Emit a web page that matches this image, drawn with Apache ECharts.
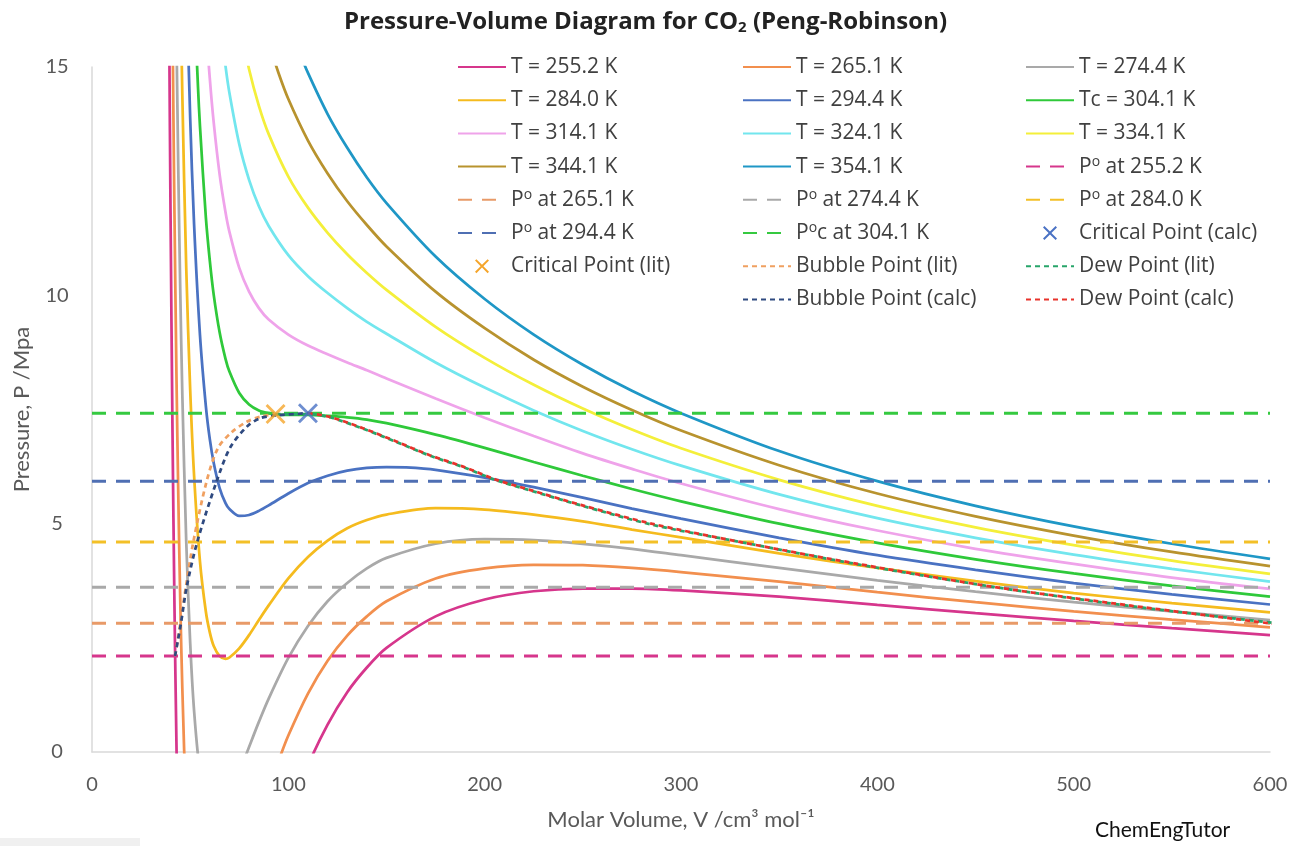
<!DOCTYPE html>
<html>
<head>
<meta charset="utf-8">
<title>Pressure-Volume Diagram for CO2 (Peng-Robinson)</title>
<script src="https://cdn.jsdelivr.net/npm/echarts@6/dist/echarts.min.js"></script>
<style>
  html, body { margin: 0; padding: 0; background: #fff; }
  #chart { width: 1291px; height: 846px; }
</style>
</head>
<body>
<div id="chart"></div>
<script>
// isotherms as [V (cm3/mol), P (MPa)]
const iso2552 = [[39.3, 16.0], [40, 11.8], [41, 7.02], [42, 3.22], [43, 0.22], [44, -2.17], [46, -5.57], [50, -8.9], [55, -9.88], [60, -9.39], [70, -7.17], [80, -4.88], [90, -2.98], [100, -1.47], [110, -0.30], [120, 0.60], [130, 1.31], [140, 1.85], [150, 2.28], [175, 2.97], [200, 3.34], [225, 3.52], [250, 3.58], [275, 3.58], [300, 3.54], [350, 3.40], [400, 3.22], [450, 3.04], [500, 2.87], [550, 2.71], [600, 2.56]]
const iso2651 = [[40.5, 18.6], [41, 16.1], [41.5, 13.8], [42, 11.8], [43, 8.3], [44, 5.5], [45, 3.2], [46, 1.4], [48, -1.3], [50, -3.05], [55, -5.0], [60, -5.21], [65, -4.72], [70, -3.96], [80, -2.30], [90, -0.83], [95, -0.20], [100, 0.36], [110, 1.28], [120, 2.0], [130, 2.55], [140, 2.97], [150, 3.30], [175, 3.80], [200, 4.02], [225, 4.10], [250, 4.09], [275, 4.03], [300, 3.94], [350, 3.73], [400, 3.50], [450, 3.28], [500, 3.08], [550, 2.90], [600, 2.73]]
const iso2744 = [[42, 19.7], [43, 15.8], [44, 12.6], [45, 10.0], [46, 7.84], [48, 4.61], [50, 2.40], [52, 0.90], [55, -0.46], [58, -1.13], [60, -1.33], [65, -1.34], [70, -0.97], [75, -0.45], [80, 0.11], [85, 0.66], [90, 1.17], [100, 2.06], [110, 2.76], [120, 3.30], [130, 3.70], [140, 4.02], [150, 4.25], [175, 4.56], [200, 4.66], [225, 4.64], [250, 4.56], [275, 4.45], [300, 4.31], [350, 4.03], [400, 3.76], [450, 3.51], [500, 3.28], [550, 3.08], [600, 2.89]]
const iso2840 = [[44, 19.9], [45, 16.9], [46, 14.4], [48, 10.6], [50, 7.95], [52, 6.05], [55, 4.17], [58, 3.07], [60, 2.62], [62, 2.32], [65, 2.10], [68, 2.04], [70, 2.07], [75, 2.27], [80, 2.56], [85, 2.89], [90, 3.21], [100, 3.80], [110, 4.27], [120, 4.63], [130, 4.90], [140, 5.08], [150, 5.20], [175, 5.34], [200, 5.31], [225, 5.20], [250, 5.05], [275, 4.87], [300, 4.70], [350, 4.35], [400, 4.03], [450, 3.74], [500, 3.48], [550, 3.26], [600, 3.06]]
const iso2944 = [[46, 21.5], [48, 17.1], [50, 13.9], [52, 11.55], [55, 9.13], [58, 7.57], [60, 6.85], [62, 6.33], [65, 5.78], [68, 5.45], [70, 5.32], [75, 5.17], [80, 5.19], [85, 5.28], [90, 5.40], [100, 5.66], [110, 5.89], [120, 6.05], [130, 6.16], [140, 6.22], [150, 6.24], [160, 6.23], [175, 6.18], [200, 6.01], [225, 5.80], [250, 5.57], [275, 5.33], [300, 5.11], [350, 4.69], [400, 4.31], [450, 3.99], [500, 3.70], [550, 3.45], [600, 3.23]]
const iso3041 = [[50, 19.4], [52, 16.6], [54, 14.55], [55, 13.7], [58, 11.7], [60, 10.76], [62, 10.01], [65, 9.19], [68, 8.61], [70, 8.33], [75, 7.86], [80, 7.61], [85, 7.48], [90, 7.42], [95, 7.39], [100, 7.38], [110, 7.38], [120, 7.36], [130, 7.33], [140, 7.28], [150, 7.20], [175, 6.95], [200, 6.66], [225, 6.35], [250, 6.05], [275, 5.76], [300, 5.49], [350, 5.00], [400, 4.58], [450, 4.22], [500, 3.91], [550, 3.64], [600, 3.40]]
const iso3141 = [[55, 18.36], [58, 15.95], [60, 14.75], [62, 13.78], [65, 12.65], [68, 11.82], [70, 11.39], [75, 10.60], [80, 10.08], [85, 9.72], [90, 9.47], [100, 9.14], [110, 8.90], [120, 8.71], [130, 8.53], [140, 8.36], [150, 8.18], [175, 7.74], [200, 7.32], [225, 6.92], [250, 6.54], [275, 6.20], [300, 5.88], [350, 5.32], [400, 4.85], [450, 4.45], [500, 4.12], [550, 3.82], [600, 3.57]]
const iso3241 = [[62, 17.51], [65, 16.09], [68, 15.02], [70, 14.43], [75, 13.31], [80, 12.53], [85, 11.95], [90, 11.52], [100, 10.88], [110, 10.42], [120, 10.05], [130, 9.72], [140, 9.42], [150, 9.16], [175, 8.53], [200, 7.98], [225, 7.48], [250, 7.03], [275, 6.63], [300, 6.27], [350, 5.64], [400, 5.12], [450, 4.69], [500, 4.32], [550, 4.01], [600, 3.73]]
const iso3341 = [[75, 16.0], [80, 14.95], [85, 14.15], [90, 13.53], [100, 12.60], [110, 11.92], [120, 11.37], [130, 10.90], [140, 10.49], [150, 10.12], [175, 9.31], [200, 8.63], [225, 8.04], [250, 7.52], [275, 7.06], [300, 6.65], [350, 5.96], [400, 5.39], [450, 4.92], [500, 4.53], [550, 4.19], [600, 3.90]]
const iso3441 = [[90, 15.53], [95, 14.87], [100, 14.30], [110, 13.39], [120, 12.67], [130, 12.06], [140, 11.54], [150, 11.07], [175, 10.08], [200, 9.28], [225, 8.59], [250, 8.00], [275, 7.49], [300, 7.04], [350, 6.28], [400, 5.66], [450, 5.16], [500, 4.74], [550, 4.38], [600, 4.07]]
const iso3541 = [[105, 15.39], [110, 14.87], [120, 13.97], [130, 13.23], [140, 12.58], [150, 12.02], [175, 10.85], [200, 9.92], [225, 9.14], [250, 8.48], [275, 7.91], [300, 7.42], [350, 6.59], [400, 5.93], [450, 5.39], [500, 4.94], [550, 4.56], [600, 4.23]]

const isoNames = ['T = 255.2 K', 'T = 265.1 K', 'T = 274.4 K', 'T = 284.0 K', 'T = 294.4 K', 'Tc = 304.1 K',
  'T = 314.1 K', 'T = 324.1 K', 'T = 334.1 K', 'T = 344.1 K', 'T = 354.1 K']
const isoColors = ['#d6368c', '#f28f4e', '#a9a9a9', '#f5bb1e', '#4a72c2', '#2fc93a',
  '#efa3ea', '#72e6ee', '#f4ef3a', '#b8932e', '#1f97c6']

// vapour pressures (horizontal dashed lines)
const psatValues = [2.10, 2.82, 3.61, 4.60, 5.93, 7.42]
const psatNames = ['P° at 255.2 K', 'P° at 265.1 K', 'P° at 274.4 K', 'P° at 284.0 K', 'P° at 294.4 K', 'P°c at 304.1 K']
const psatColors = ['#d6368c', '#e89a68', '#a9a9a9', '#f3c027', '#4f6fb3', '#35c940']

const critCalc = [[110, 7.42]]
const critLit = [[93.5, 7.40]]

const bubbleLit = [[42.3, 2.10], [45.0, 2.82], [47.8, 3.61], [51.6, 4.60], [58.4, 5.93], [64.2, 6.66], [71.1, 7.0], [78.8, 7.23], [85.6, 7.34], [93.5, 7.40]]
const bubbleCalc = [[42.3, 2.10], [45.3, 2.82], [48.2, 3.61], [53.6, 4.60], [63.5, 5.93], [70.3, 6.66], [78.8, 7.12], [85.6, 7.31], [94, 7.37], [110, 7.42]]
const dewLit = [[93.5, 7.40], [110, 7.40], [121, 7.33], [138, 7.08], [155, 6.79], [172, 6.49], [189, 6.24], [206, 5.95], [223, 5.73], [249, 5.40], [285, 4.98], [330, 4.60], [390, 4.11], [460, 3.61], [530, 3.19], [603, 2.82]]
const dewCalc = [[110, 7.42], [121, 7.34], [138, 7.09], [155, 6.80], [172, 6.50], [189, 6.25], [206, 5.96], [223, 5.74], [249, 5.41], [285, 5.00], [330, 4.60], [390, 4.12], [460, 3.61], [530, 3.20], [603, 2.80]]

const isotherms = [iso2552, iso2651, iso2744, iso2840, iso2944, iso3041, iso3141, iso3241, iso3341, iso3441, iso3541]

const crossPath = 'path://M1,0 L5,4 L9,0 L10,1 L6,5 L10,9 L9,10 L5,6 L1,10 L0,9 L4,5 L0,1 Z'
const baseFont = 'Open Sans'
const axisFont = 'Lato'

const series = []
isotherms.forEach(function (d, i) {
  series.push({
    name: isoNames[i],
    type: 'line',
    data: d,
    symbol: 'none',
    smooth: 0.3,
    lineStyle: { color: isoColors[i], width: 2.75 },
    itemStyle: { color: isoColors[i] }
  })
})
psatValues.forEach(function (p, i) {
  series.push({
    name: psatNames[i],
    type: 'line',
    data: [[0, p], [600, p]],
    symbol: 'none',
    lineStyle: { color: psatColors[i], width: 3, type: [14, 10] },
    itemStyle: { color: psatColors[i] }
  })
})
series.push({
  name: 'Critical Point (calc)', type: 'scatter', data: critCalc, z: 5,
  symbol: crossPath, symbolSize: 20, itemStyle: { color: '#4a72c4' }
})
series.push({
  name: 'Critical Point (lit)', type: 'scatter', data: critLit, z: 5,
  symbol: crossPath, symbolSize: 20, itemStyle: { color: '#f5a52a' }
})
const phaseLines = [
  ['Bubble Point (lit)', bubbleLit, '#f0a060'],
  ['Dew Point (lit)', dewLit, '#27a56a'],
  ['Bubble Point (calc)', bubbleCalc, '#2f4a80'],
  ['Dew Point (calc)', dewCalc, '#e8322b']
]
phaseLines.forEach(function (s) {
  series.push({
    name: s[0],
    type: 'line',
    data: s[1],
    symbol: 'none',
    smooth: 0.3,
    lineStyle: { color: s[2], width: 2.75, type: [5, 4] },
    itemStyle: { color: s[2] }
  })
})

const legendCols = [
  ['T = 255.2 K', 'T = 284.0 K', 'T = 314.1 K', 'T = 344.1 K', 'P° at 265.1 K', 'P° at 294.4 K', 'Critical Point (lit)'],
  ['T = 265.1 K', 'T = 294.4 K', 'T = 324.1 K', 'T = 354.1 K', 'P° at 274.4 K', 'P°c at 304.1 K', 'Bubble Point (lit)', 'Bubble Point (calc)'],
  ['T = 274.4 K', 'Tc = 304.1 K', 'T = 334.1 K', 'P° at 255.2 K', 'P° at 284.0 K', 'Critical Point (calc)', 'Dew Point (lit)', 'Dew Point (calc)']
]
const legendLeft = [457, 742, 1025]

function supFmt (name) {
  return name.replace('P°', 'P{s|o}')
}

// line items get no dot in the legend, the crosses keep their marker
const legends = legendCols.map(function (col, i) {
  return {
    orient: 'vertical',
    left: legendLeft[i],
    top: 55,
    padding: 0,
    itemWidth: 48,
    itemHeight: 14,
    itemGap: 9.2,
    selectedMode: false,
    itemStyle: { opacity: 0 },
    data: col.map(function (n) {
      return n.indexOf('Critical') === 0 ? { name: n, itemStyle: { opacity: 1 } } : { name: n }
    }),
    formatter: supFmt,
    textStyle: {
      fontFamily: baseFont,
      fontSize: 21,
      color: '#404040',
      lineHeight: 24,
      rich: {
        s: { fontFamily: baseFont, fontSize: 14, color: '#404040', verticalAlign: 'top', lineHeight: 14 }
      }
    }
  }
})

const chart = echarts.init(document.getElementById('chart'))
chart.setOption({
  backgroundColor: '#fff',
  animation: false,
  title: {
    text: 'Pressure-Volume Diagram for CO{sub|2} (Peng-Robinson)',
    left: 'center',
    top: 10,
    padding: 0,
    textStyle: {
      fontFamily: baseFont,
      fontSize: 24,
      fontWeight: 'bold',
      color: '#222',
      rich: {
        sub: { fontFamily: baseFont, fontSize: 15, fontWeight: 'bold', color: '#222', verticalAlign: 'bottom', padding: [10, 0, 0, 0] }
      }
    }
  },
  legend: legends,
  grid: { left: 92, right: 21, top: 67, bottom: 94 },
  xAxis: {
    type: 'value',
    min: 0,
    max: 600,
    interval: 100,
    axisLine: { show: true, lineStyle: { color: '#d9d9d9', width: 1.5 } },
    axisTick: { show: false },
    splitLine: { show: false },
    axisLabel: { color: '#595959', fontSize: 20, fontFamily: axisFont, margin: 23 },
    name: 'Molar Volume, V /cm³ mol⁻¹',
    nameLocation: 'middle',
    nameGap: 57,
    nameTextStyle: { color: '#595959', fontSize: 22, fontFamily: axisFont }
  },
  yAxis: {
    type: 'value',
    min: 0,
    max: 15,
    interval: 5,
    axisLine: { show: true, lineStyle: { color: '#d9d9d9', width: 1.5 } },
    axisTick: { show: false },
    splitLine: { show: false },
    axisLabel: { color: '#595959', fontSize: 20, fontFamily: axisFont, margin: 35, align: 'center' },
    name: 'Pressure, P /Mpa',
    nameLocation: 'middle',
    nameGap: 59,
    nameTextStyle: { color: '#595959', fontSize: 22, fontFamily: axisFont }
  },
  graphic: [
    { type: 'text', left: 1095, top: 820, style: { text: 'ChemEngTutor', fill: '#111', font: '21px Lato' } },
    { type: 'rect', left: 0, top: 838, shape: { width: 140, height: 8 }, style: { fill: '#f0f0f0' } }
  ],
  series: series
})
</script>
</body>
</html>
